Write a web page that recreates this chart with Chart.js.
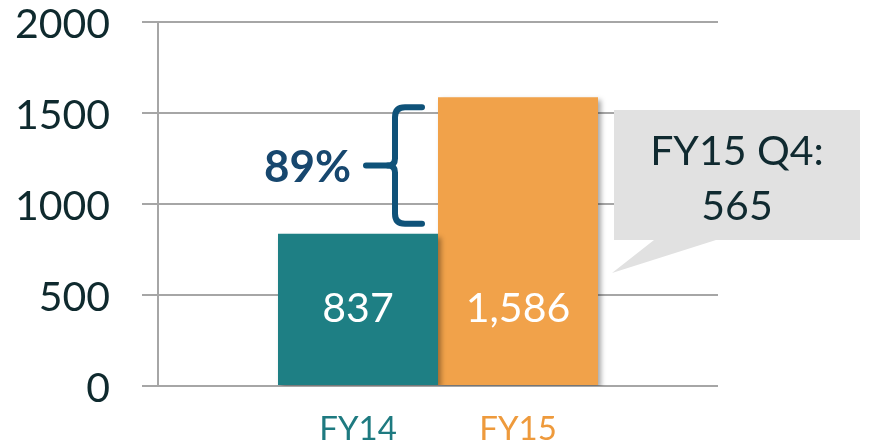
<!DOCTYPE html>
<html>
<head>
<meta charset="utf-8">
<script src="https://cdn.jsdelivr.net/npm/chart.js@4/dist/chart.umd.min.js"></script>
<style>
  body { margin: 0; background: #fff; }
  #wrap { width: 871px; height: 444px; position: relative; }
</style>
</head>
<body>
<div id="wrap"><canvas id="chart"></canvas></div>
<script>
// data
const categories = ['FY14', 'FY15'];
const values = [837, 1586];
const valueLabels = ['837', '1,586'];
const yTicks = [0, 500, 1000, 1500, 2000];
const growthLabel = '89%';
const calloutLines = ['FY15 Q4:', '565'];

const barColors = ['#1e7f84', '#f1a24a'];
const catColors = ['#1e7a80', '#ee9a3c'];
const FONT = 'Lato, "Open Sans", sans-serif';

// shadow under the bars
const barShadow = {
  id: 'barShadow',
  beforeDatasetsDraw(chart) {
    const ctx = chart.ctx;
    ctx.save();
    ctx.shadowColor = 'rgba(0,0,0,0.35)';
    ctx.shadowOffsetX = 3;
    ctx.shadowOffsetY = 3;
    ctx.shadowBlur = 5;
  },
  afterDatasetsDraw(chart) {
    chart.ctx.restore();
  }
};

// value labels, category labels, brace and callout
const overlays = {
  id: 'overlays',
  afterDraw(chart) {
    const ctx = chart.ctx;
    const y = chart.scales.y;
    const base = y.getPixelForValue(0);
    const bars = categories.map((c, i) => chart.getDatasetMeta(i).data[0]);

    ctx.save();
    ctx.textAlign = 'center';
    ctx.textBaseline = 'alphabetic';

    // numbers inside the bars
    ctx.font = '41px ' + FONT;
    ctx.fillStyle = '#ffffff';
    bars.forEach((b, i) => ctx.fillText(valueLabels[i], b.x, base - 64));

    // category labels under the bars
    ctx.font = '33px ' + FONT;
    bars.forEach((b, i) => {
      ctx.fillStyle = catColors[i];
      ctx.fillText(categories[i], b.x, base + 54);
    });

    // brace between the two bar tops
    const yt = y.getPixelForValue(values[1]) + 10;
    const yb = y.getPixelForValue(values[0]) - 10;
    const ym = (yt + yb) / 2;
    const xr = bars[1].x - bars[1].width / 2 - 16;
    const xv = xr - 27;
    const r = 10;
    ctx.strokeStyle = '#0f5279';
    ctx.lineWidth = 6;
    ctx.lineCap = 'round';
    ctx.lineJoin = 'round';
    ctx.beginPath();
    ctx.moveTo(xr, yt);
    ctx.lineTo(xv + r, yt);
    ctx.quadraticCurveTo(xv, yt, xv, yt + r);
    ctx.lineTo(xv, ym - 7);
    ctx.quadraticCurveTo(xv, ym, xv - 7, ym);
    ctx.quadraticCurveTo(xv, ym, xv, ym + 7);
    ctx.lineTo(xv, yb - r);
    ctx.quadraticCurveTo(xv, yb, xv + r, yb);
    ctx.lineTo(xr, yb);
    ctx.stroke();
    ctx.beginPath();
    ctx.moveTo(xv - 7, ym);
    ctx.lineTo(xv - 29, ym);
    ctx.stroke();

    ctx.font = 'bold 44px ' + FONT;
    ctx.fillStyle = '#17476e';
    ctx.textAlign = 'right';
    ctx.fillText(growthLabel, xv - 44, ym + 16);

    // callout box
    const bx = bars[1].x + bars[1].width / 2 + 16;
    const by = 110, bw = 246, bh = 130;
    ctx.fillStyle = '#e1e1e1';
    ctx.beginPath();
    ctx.moveTo(bx, by);
    ctx.lineTo(bx + bw, by);
    ctx.lineTo(bx + bw, by + bh);
    ctx.lineTo(bx + 102, by + bh);
    ctx.lineTo(bx - 2, by + 163);
    ctx.lineTo(bx + 40, by + bh);
    ctx.lineTo(bx, by + bh);
    ctx.closePath();
    ctx.fill();

    ctx.fillStyle = '#102a30';
    ctx.textAlign = 'center';
    ctx.font = '41px ' + FONT;
    ctx.fillText(calloutLines[0], bx + bw / 2, by + 55);
    ctx.fillText(calloutLines[1], bx + bw / 2, by + 110);
    ctx.restore();
  }
};

new Chart(document.getElementById('chart'), {
  type: 'bar',
  data: {
    labels: [''],
    datasets: categories.map((c, i) => ({
      label: c,
      data: [values[i]],
      backgroundColor: barColors[i],
      borderWidth: 0
    }))
  },
  options: {
    responsive: true,
    maintainAspectRatio: false,
    animation: false,
    layout: { padding: { top: 22, right: 153, bottom: 0, left: 0 } },
    datasets: { bar: { barPercentage: 1, categoryPercentage: 320 / 560 } },
    plugins: { legend: { display: false }, tooltip: { enabled: false } },
    scales: {
      x: {
        grid: { display: false },
        border: { display: false },
        ticks: { display: false },
        afterFit(scale) { scale.height = 58; }
      },
      y: {
        min: yTicks[0],
        max: yTicks[yTicks.length - 1],
        afterBuildTicks(scale) { scale.ticks = yTicks.map(v => ({ value: v })); },
        afterFit(scale) {
          scale.width = 158;
          scale.paddingTop = 0;
          scale.paddingBottom = 0;
        },
        grid: { color: '#a6a6a6', lineWidth: 2, tickLength: 16 },
        border: { display: true, color: '#a6a6a6', width: 2 },
        ticks: {
          padding: 32,
          labelOffset: 3,
          color: '#0f2a2e',
          font: { family: FONT, size: 41 },
          callback: v => String(v)
        }
      }
    }
  },
  plugins: [barShadow, overlays]
});
</script>
</body>
</html>
